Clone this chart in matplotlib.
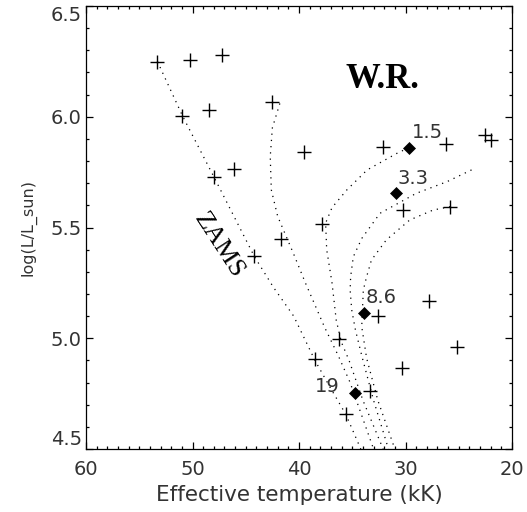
import matplotlib
matplotlib.use("Agg")
import matplotlib.pyplot as plt
import numpy as np

matplotlib.rcParams.update({
    'figure.facecolor': 'w',
    'font.family': 'DejaVu Sans',
})

# observed stars (Teff in kK, log L)
star_teff = [53.36, 50.23, 47.26, 50.96, 48.45, 42.5, 39.5, 47.95, 46.1,
             32.14, 26.2, 22.5, 22.0, 30.25, 25.85, 37.8, 41.7, 44.2,
             27.76, 32.55, 36.21, 38.5, 25.13, 30.36, 33.33, 35.59]
star_logl = [6.246, 6.256, 6.279, 6.003, 6.031, 6.068, 5.839, 5.727, 5.763,
             5.863, 5.877, 5.918, 5.895, 5.577, 5.594, 5.514, 5.447, 5.373,
             5.170, 5.100, 4.997, 4.906, 4.962, 4.867, 4.763, 4.656]

# models marked with diamonds
model_teff = [29.67, 30.9, 33.85, 34.77]
model_logl = [5.86, 5.654, 5.113, 4.751]
model_labels = ["1.5", "3.3", "8.6", "19"]

# dotted tracks
zams_teff = [53.3, 50.9, 47.9, 44.2, 42.4, 40.5, 38.5, 37.1, 35.6, 34.2]
zams_logl = [6.25, 6.0, 5.72, 5.37, 5.23, 5.10, 4.90, 4.78, 4.656, 4.5]

track_a_teff = [41.8, 42.5, 42.7, 42.6, 42.0, 40.5, 39.4, 38.5, 37.6, 36.3,
                35.2, 34.1, 33.0]
track_a_logl = [6.06, 5.95, 5.82, 5.67, 5.55, 5.38, 5.25, 5.15, 5.05, 4.92,
                4.80, 4.65, 4.5]

track_b_teff = [29.7, 30.8, 33.6, 35.5, 36.9, 37.5, 37.4, 36.9, 36.5, 36.0,
                35.3, 34.0, 32.1]
track_b_logl = [5.86, 5.835, 5.76, 5.67, 5.59, 5.52, 5.40, 5.25, 5.08, 4.98,
                4.90, 4.72, 4.5]

track_c_teff = [23.8, 26.1, 29.0, 32.4, 34.1, 34.9, 35.15, 35.2, 35.05, 34.7,
                34.1, 33.0, 31.6]
track_c_logl = [5.76, 5.707, 5.654, 5.564, 5.451, 5.368, 5.278, 5.218, 5.128,
                5.037, 4.92, 4.72, 4.5]

track_d_teff = [25.8, 27.4, 29.6, 31.8, 33.2, 33.65, 33.96, 34.11, 33.65,
                32.6, 31.0]
track_d_logl = [5.594, 5.579, 5.534, 5.444, 5.353, 5.278, 5.218, 5.052, 4.91,
                4.72, 4.5]

tracks = [(zams_teff, zams_logl), (track_a_teff, track_a_logl),
          (track_b_teff, track_b_logl), (track_c_teff, track_c_logl),
          (track_d_teff, track_d_logl)]

fig = plt.figure(figsize=(5.27, 5.12), dpi=100)
ax = fig.add_axes([86 / 527, 63 / 512, 426 / 527, 443 / 512])

for t, l in tracks:
    ax.plot(t, l, color='k', lw=0.9, ls=(0, (1, 4)))

ax.plot(star_teff, star_logl, ls='none', marker='+', ms=9.5, mew=1.0,
        color='k')
ax.plot(model_teff, model_logl, ls='none', marker='D', ms=6.2, mew=0.5,
        color='k')

txt_col = '#333333'
offsets = [(13, 11), (12, 11), (12, 11), (-20, 5)]
for x, y, lab, off in zip(model_teff, model_logl, model_labels, offsets):
    ax.annotate(lab, (x, y), xytext=off, textcoords='offset points',
                ha='center', va='center', fontsize=14, color=txt_col)

ax.text(32.16, 6.166, "W.R.", family='Liberation Serif', fontsize=25,
        fontweight='bold', ha='center', va='center')
ax.text(47.5, 5.42, "ZAMS", family='Liberation Serif', fontsize=19,
        rotation=-57, rotation_mode='anchor', ha='center', va='center')

ax.set_xlim(60, 20)
ax.set_ylim(4.5, 6.5)
ax.set_xticks(np.arange(60, 19, -10))
ax.set_xticks(np.arange(60, 19, -1), minor=True)
ax.set_yticks(np.arange(4.5, 6.51, 0.5))
ax.set_yticks(np.arange(4.5, 6.51, 0.1), minor=True)
ax.yaxis.set_major_formatter(matplotlib.ticker.FormatStrFormatter('%.1f'))
ax.tick_params(which='both', direction='in', top=True, right=True,
               labelsize=14, labelcolor=txt_col, width=0.9)
ax.tick_params(which='major', length=5)
ax.tick_params(which='minor', length=2.5)
ax.tick_params(axis='x', pad=8)
ax.tick_params(axis='y', pad=3)
for s in ax.spines.values():
    s.set_linewidth(0.9)

ylabs = ax.get_yticklabels()
ylabs[0].set_va('bottom')
ylabs[-1].set_va('top')

ax.set_xlabel("Effective temperature (kK)", fontsize=15.5, color=txt_col,
              labelpad=4)
ax.set_ylabel("log(L/L_sun)", fontsize=11.5, color=txt_col, labelpad=10)

plt.savefig("out.png", dpi=100)
